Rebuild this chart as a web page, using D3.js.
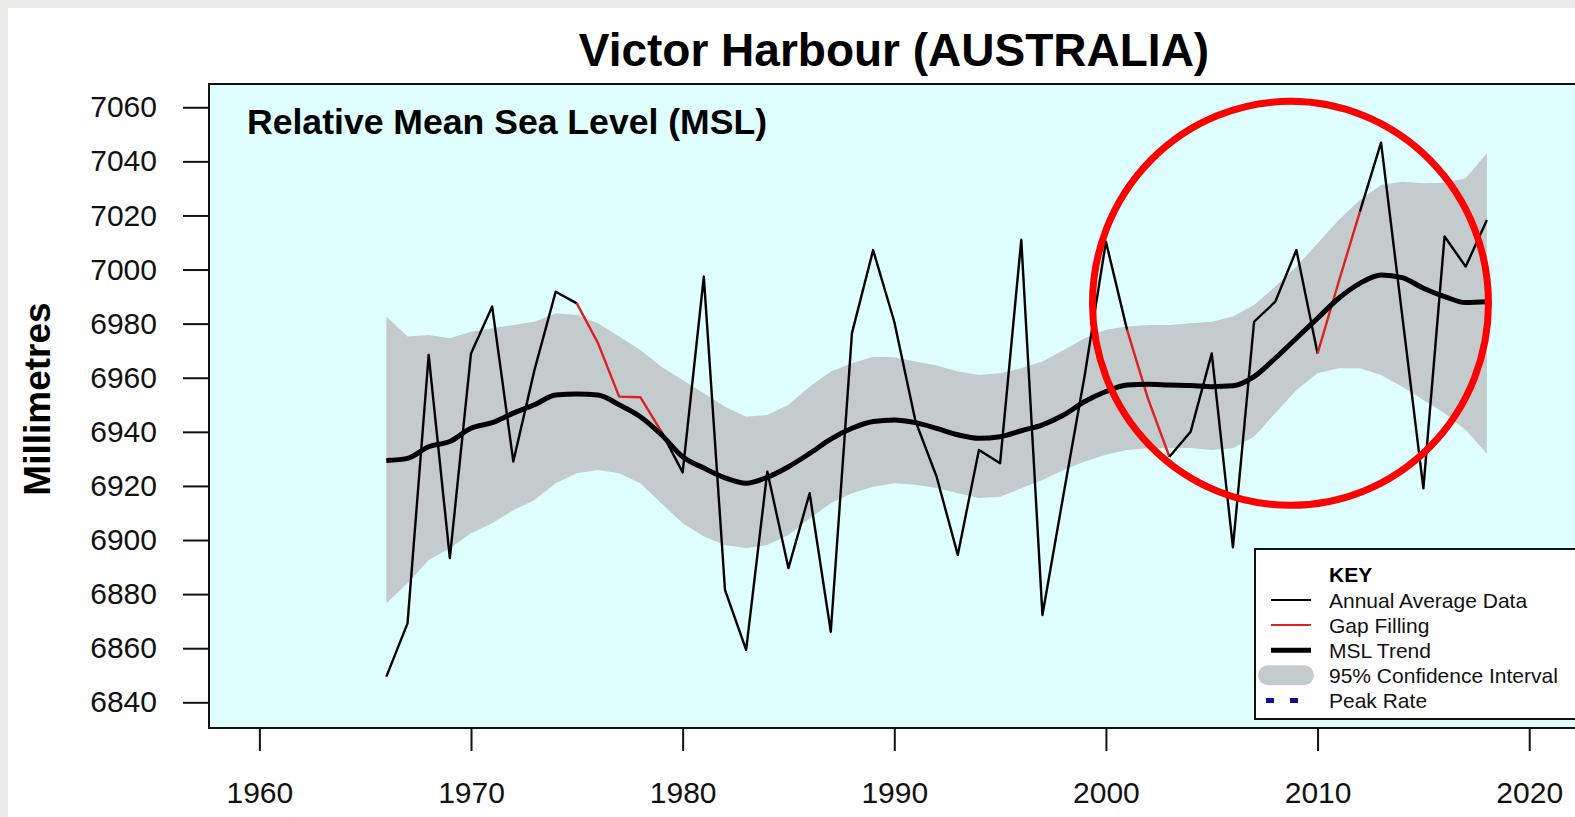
<!DOCTYPE html>
<html>
<head>
<meta charset="utf-8">
<script src="https://cdnjs.cloudflare.com/ajax/libs/d3/7.8.5/d3.min.js"></script>
<style>
    body { margin: 0; background: #ebebe7; }
    svg { display: block; font-family: "Liberation Sans", Arial, sans-serif; }
</style>
</head>
<body>
<div id="vis"></div>
<script>
// data
let years = [1966, 1967, 1968, 1969, 1970, 1971, 1972, 1973, 1974, 1975,
    1976, 1977, 1978, 1979, 1980, 1981, 1982, 1983, 1984, 1985,
    1986, 1987, 1988, 1989, 1990, 1991, 1992, 1993, 1994, 1995,
    1996, 1997, 1998, 1999, 2000, 2001, 2002, 2003, 2004, 2005,
    2006, 2007, 2008, 2009, 2010, 2011, 2012, 2013, 2014, 2015,
    2016, 2017, 2018]

let annual = [6849.5, 6869.2, 6968.4, 6893.3, 6969, 6986.3, 6929, 6962.9, 6991.8, 6987.5,
    6972.8, 6953, 6952.8, 6940, 6925, 6997.4, 6881.6, 6859.4, 6925.3, 6889.6,
    6917.3, 6866.1, 6976.5, 7007.2, 6980.7, 6944, 6923.4, 6894.5, 6933.3, 6928.4,
    7011, 6872.3, 6917, 6961, 7010.3, 6977.7, 6952, 6930.8, 6940, 6969,
    6897.3, 6980.7, 6988.1, 7007.2, 6969, 6995.5, 7021.4, 7046.9, 6983, 6919.1,
    7012.2, 7001.1, 7018.3]

// years filled in (drawn red)
let gapYears = [1976, 1977, 1978, 2002, 2011]

let trend = [6929.4, 6930.2, 6934.5, 6936.4, 6941.3, 6943.4, 6946.9, 6950, 6953.6, 6954,
    6953.6, 6950, 6945.6, 6938.9, 6930.8, 6926.6, 6923, 6921, 6923.2, 6927.1,
    6932, 6937.3, 6941.3, 6943.8, 6944.4, 6943.4, 6941.3, 6938.9, 6937.6, 6938.2,
    6940.4, 6942.6, 6946.2, 6951.2, 6954.9, 6957.3, 6957.6, 6957.3, 6957.1, 6956.7,
    6957, 6960.4, 6967.2, 6974.6, 6982, 6989.4, 6994.9, 6998, 6997, 6993.1,
    6990, 6987.8, 6988.1]

let upper = [6982.6, 6975.2, 6975.8, 6974.6, 6977, 6978.3, 6979.5, 6980.7, 6983.8, 6983.2,
    6980.1, 6975.2, 6970.3, 6964.1, 6959.2, 6954.3, 6949.3, 6945.6, 6946.2, 6950,
    6956.7, 6962.3, 6965.4, 6967.8, 6967.6, 6966, 6964.5, 6962.3, 6961, 6961.7,
    6963.5, 6966, 6970.3, 6974.6, 6977.7, 6978.9, 6979.5, 6979.5, 6980.1, 6980.7,
    6982.6, 6986.9, 6993.7, 7001.1, 7009.7, 7018.3, 7025.7, 7031.3, 7032.5, 7031.9,
    7032.1, 7033.8, 7043]

let lower = [6876.6, 6884, 6892.6, 6897, 6902.5, 6906.2, 6911, 6914.8, 6921, 6924.7,
    6925.9, 6924.7, 6921, 6913.5, 6906.2, 6901.3, 6898.2, 6897, 6898.2, 6901.9,
    6908, 6913.6, 6917.3, 6919.7, 6921, 6920.4, 6919.2, 6917.3, 6915.5, 6916,
    6919.1, 6922.2, 6925.9, 6929, 6931.5, 6933.3, 6933.9, 6934, 6934, 6933.3,
    6933.9, 6938.2, 6946.9, 6955.5, 6961.7, 6963.5, 6963.5, 6961, 6956.7, 6951.8,
    6946.9, 6940.7, 6932]

let xTicks = [1960, 1970, 1980, 1990, 2000, 2010, 2020]
let yTicks = [6840, 6860, 6880, 6900, 6920, 6940, 6960, 6980, 7000, 7020, 7040, 7060]

let keyLabels = ["Annual Average Data", "Gap Filling", "MSL Trend", "95% Confidence Interval", "Peak Rate"]

let svgWidth = 1575
let svgHeight = 817

// plot box (right side runs off the picture)
let margin = { left: 209, top: 84 }
let width = 1580 - margin.left
let height = 728 - margin.top

let svg = d3.select('#vis')
    .append('svg')
    .attr('width', svgWidth)
    .attr('height', svgHeight)

// white sheet
svg.append('rect')
    .attr('x', 8).attr('y', 8)
    .attr('width', svgWidth).attr('height', svgHeight)
    .attr('fill', '#fff')

let g = svg.append('g')
    .attr('transform', `translate(${margin.left},${margin.top})`)

// scales
let xScale = d3.scaleLinear()
    .domain([1957.62, 2022.4])
    .range([0, width])

let yScale = d3.scaleLinear()
    .domain([6830.5, 7068.6])
    .range([height, 0])

let data = years.map((y, i) => ({
    year: y,
    msl: annual[i],
    trend: trend[i],
    hi: upper[i],
    lo: lower[i],
    gap: gapYears.includes(y)
}))

g.append('rect')
    .attr('width', width)
    .attr('height', height)
    .attr('fill', '#dffefe')

// confidence band
let band = d3.area()
    .x(d => xScale(d.year))
    .y0(d => yScale(d.lo))
    .y1(d => yScale(d.hi))

g.append('path')
    .datum(data)
    .attr('d', band)
    .attr('fill', '#c4cbcc')

// annual data, split into black and red runs
let runs = []
for (let i = 0; i < data.length - 1; i++) {
    let red = data[i].gap || data[i + 1].gap
    let last = runs[runs.length - 1]
    if (last && last.red === red) {
        last.pts.push(data[i + 1])
    } else {
        runs.push({ red: red, pts: [data[i], data[i + 1]] })
    }
}

let line = d3.line()
    .x(d => xScale(d.year))
    .y(d => yScale(d.msl))

g.selectAll('.annual')
    .data(runs)
    .join('path')
        .attr('class', 'annual')
        .attr('d', d => line(d.pts))
        .attr('fill', 'none')
        .attr('stroke', d => d.red ? '#e02020' : '#000')
        .attr('stroke-width', 2.4)
        .attr('stroke-linejoin', 'round')

// trend
let trendLine = d3.line()
    .x(d => xScale(d.year))
    .y(d => yScale(d.trend))
    .curve(d3.curveMonotoneX)

g.append('path')
    .datum(data)
    .attr('d', trendLine)
    .attr('fill', 'none')
    .attr('stroke', '#000')
    .attr('stroke-width', 5)
    .attr('stroke-linejoin', 'round')

// red ring drawn over the recent years
g.append('ellipse')
    .attr('cx', xScale(2008.72))
    .attr('cy', yScale(6987.5))
    .attr('rx', 198)
    .attr('ry', 202)
    .attr('fill', 'none')
    .attr('stroke', '#ff0000')
    .attr('stroke-width', 7)

// frame
g.append('rect')
    .attr('width', width)
    .attr('height', height)
    .attr('fill', 'none')
    .attr('stroke', '#111')
    .attr('stroke-width', 2)

// axes
let xAxis = d3.axisBottom(xScale)
    .tickValues(xTicks)
    .tickFormat(d3.format('d'))
    .tickSize(23)
    .tickPadding(31)

let yAxis = d3.axisLeft(yScale)
    .tickValues(yTicks)
    .tickFormat(d3.format('d'))
    .tickSize(26)
    .tickPadding(26)

g.append('g')
    .attr('id', 'x-axis')
    .attr('transform', `translate(0,${height})`)
    .call(xAxis)

g.append('g')
    .attr('id', 'y-axis')
    .call(yAxis)

g.selectAll('.domain').remove()
g.selectAll('.tick line').attr('stroke', '#111').attr('stroke-width', 2)
g.selectAll('.tick text')
    .attr('fill', '#111')
    .style('font-size', '30px')
    .style('font-family', '"Liberation Sans", Arial, sans-serif')

// titles
svg.append('text')
    .attr('x', 894)
    .attr('y', 66)
    .attr('text-anchor', 'middle')
    .style('font-size', '46px')
    .style('font-weight', 'bold')
    .text('Victor Harbour (AUSTRALIA)')

svg.append('text')
    .attr('x', 247)
    .attr('y', 134)
    .style('font-size', '35.6px')
    .style('font-weight', 'bold')
    .text('Relative Mean Sea Level (MSL)')

svg.append('text')
    .attr('transform', 'translate(50,399) rotate(-90)')
    .attr('text-anchor', 'middle')
    .style('font-size', '37px')
    .style('font-weight', 'bold')
    .text('Millimetres')

// key
let key = svg.append('g')
    .attr('transform', 'translate(1255,549)')

key.append('rect')
    .attr('width', 400)
    .attr('height', 170)
    .attr('fill', '#fff')
    .attr('stroke', '#111')
    .attr('stroke-width', 2)

key.append('text')
    .attr('x', 74)
    .attr('y', 33)
    .style('font-size', '21px')
    .style('font-weight', 'bold')
    .text('KEY')

let rowY = i => 51 + i * 25.1

key.selectAll('.label')
    .data(keyLabels)
    .join('text')
        .attr('class', 'label')
        .attr('x', 74)
        .attr('y', (d, i) => rowY(i) + 7.5)
        .style('font-size', '21px')
        .attr('fill', '#111')
        .text(d => d)

let swatch = [
    { color: '#000', w: 2 },
    { color: '#e02020', w: 2 },
    { color: '#000', w: 5 }
]

key.selectAll('.swatch')
    .data(swatch)
    .join('line')
        .attr('class', 'swatch')
        .attr('x1', 16).attr('x2', 56)
        .attr('y1', (d, i) => rowY(i)).attr('y2', (d, i) => rowY(i))
        .attr('stroke', d => d.color)
        .attr('stroke-width', d => d.w)

key.append('rect')
    .attr('x', 3).attr('y', rowY(3) - 10)
    .attr('width', 56).attr('height', 20)
    .attr('rx', 10)
    .attr('fill', '#c4cbcc')

key.append('line')
    .attr('x1', 11).attr('x2', 51)
    .attr('y1', rowY(4)).attr('y2', rowY(4))
    .attr('stroke', '#1010a0')
    .attr('stroke-width', 5)
    .attr('stroke-dasharray', '8,16')
</script>
</body>
</html>
